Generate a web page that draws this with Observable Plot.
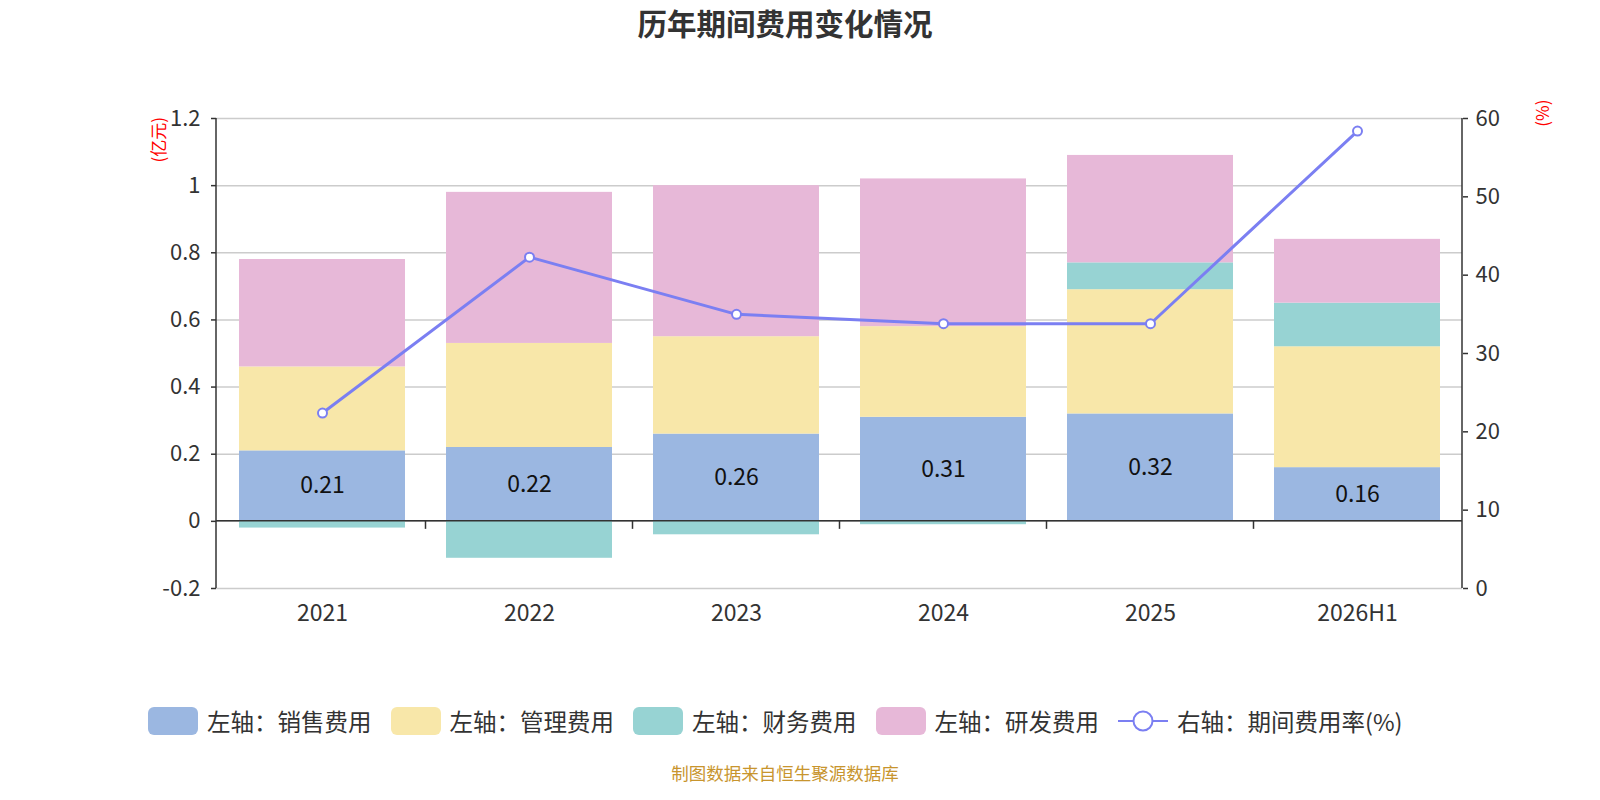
<!DOCTYPE html>
<html>
<head>
<meta charset="utf-8">
<script src="https://cdn.jsdelivr.net/npm/d3@7"></script>
<script src="https://cdn.jsdelivr.net/npm/@observablehq/plot@0.6"></script>
<style>
  html, body { margin: 0; padding: 0; background: #fff; }
  body { width: 1600px; height: 800px; position: relative; overflow: hidden;
         font-family: "Noto Sans CJK SC", "Noto Sans", sans-serif; color: #333; }
  #title { position: absolute; top: 0; left: 0; width: 1570px; text-align: center;
           font-size: 29.5px; font-weight: bold; line-height: 44px; color: #333; }
  #chart { position: absolute; top: 50px; left: 0; }
  #legend { position: absolute; top: 704px; left: 148px; display: flex; align-items: center;
            font-size: 23.5px; color: #333; white-space: nowrap; }
  .item { display: flex; align-items: center; margin-right: 19px; }
  .sw { width: 50px; height: 28px; border-radius: 6px; margin-right: 9px; }
  #caption { position: absolute; top: 760px; left: 0; width: 1570px; text-align: center;
             font-size: 17.5px; color: #c8952e; }
</style>
</head>
<body>
<div id="title">历年期间费用变化情况</div>
<div id="chart"></div>
<div id="legend"></div>
<div id="caption">制图数据来自恒生聚源数据库</div>
<script>
// ---- data ----
const categories = ["2021", "2022", "2023", "2024", "2025", "2026H1"];
const salesExp   = [0.21, 0.22, 0.26, 0.31, 0.32, 0.16];
const adminExp   = [0.25, 0.31, 0.29, 0.27, 0.37, 0.36];
const financeExp = [-0.02, -0.11, -0.04, -0.01, 0.08, 0.13];
const rndExp     = [0.32, 0.45, 0.45, 0.44, 0.32, 0.19];
const expenseRate = [22.4, 42.3, 35.0, 33.8, 33.8, 58.4];
const seriesNames = ["左轴：销售费用", "左轴：管理费用", "左轴：财务费用", "左轴：研发费用"];
const lineName = "右轴：期间费用率(%)";
const seriesColors = ["#9bb7e1", "#f8e7a9", "#97d3d3", "#e7b8d8"];
const lineColor = "#7b7ff2";
const leftTicks = [-0.2, 0, 0.2, 0.4, 0.6, 0.8, 1, 1.2];
const rightTicks = [0, 10, 20, 30, 40, 50, 60];
const leftDomain = [-0.2, 1.2];
const rightDomain = [0, 60];

// ---- build table ----
const seriesValues = [salesExp, adminExp, financeExp, rndExp];
const rows = [];
seriesValues.forEach((vals, s) => vals.forEach((v, i) =>
  rows.push({year: categories[i], series: seriesNames[s], value: v})));
// map right-axis values onto left scale domain
const toLeft = r => leftDomain[0] + (r - rightDomain[0]) * (leftDomain[1] - leftDomain[0]) / (rightDomain[1] - rightDomain[0]);
const toRight = y => rightDomain[0] + (y - leftDomain[0]) * (rightDomain[1] - rightDomain[0]) / (leftDomain[1] - leftDomain[0]);
const rateRows = categories.map((c, i) => ({year: c, rate: expenseRate[i]}));
const salesRows = categories.map((c, i) => ({year: c, value: salesExp[i]}));

function axisLines(index, scales, values, dims) {
  const sx = scales.x, sy = scales.y;
  const g = d3.create("svg:g").attr("stroke", "#333").attr("stroke-width", 1.5).attr("fill", "none");
  const left = dims.marginLeft, right = dims.width - dims.marginRight;
  const top = dims.marginTop, bottom = dims.height - dims.marginBottom;
  g.append("line").attr("x1", left).attr("x2", left).attr("y1", top).attr("y2", bottom);
  g.append("line").attr("x1", right).attr("x2", right).attr("y1", top).attr("y2", bottom);
  const y0 = sy(0);
  g.append("line").attr("x1", left).attr("x2", right).attr("y1", y0).attr("y2", y0);
  const step = sx(categories[1]) - sx(categories[0]);
  const bw = typeof sx.bandwidth === "function" ? sx.bandwidth() : step * 0.8;
  for (let i = 1; i < categories.length; i++) {
    const bx = sx(categories[i]) - (step - bw) / 2;
    g.append("line").attr("x1", bx).attr("x2", bx).attr("y1", y0).attr("y2", y0 + 8);
  }
  return g.node();
}

const chart = Plot.plot({
  width: 1600,
  height: 620,
  marginTop: 68,
  marginBottom: 82,
  marginLeft: 216,
  marginRight: 138,
  style: {fontFamily: "'Noto Sans CJK SC', 'Noto Sans', sans-serif", fontSize: "20px", color: "#333", background: "transparent"},
  x: {domain: categories, paddingInner: 0.2, paddingOuter: 0.1, axis: null, label: null},
  y: {domain: leftDomain, axis: null, label: null},
  color: {domain: seriesNames, range: seriesColors},
  marks: [
    Plot.ruleY(leftTicks, {stroke: "#cccccc", strokeWidth: 1.5}),
    Plot.barY(rows, {x: "year", y: "value", fill: "series", inset: 0}),
    axisLines,
    Plot.text(salesRows, {x: "year", y: d => d.value / 2, text: d => d.value.toFixed(2), fill: "#111", fontSize: 23}),
    Plot.line(rateRows, {x: "year", y: d => toLeft(d.rate), stroke: lineColor, strokeWidth: 3}),
    Plot.dot(rateRows, {x: "year", y: d => toLeft(d.rate), r: 4.5, fill: "#fff", stroke: lineColor, strokeWidth: 2}),
    Plot.axisY(leftTicks, {anchor: "left", label: null, tickSize: 5, tickPadding: 11, fontSize: 22, stroke: "#333", strokeWidth: 1.5,
      tickFormat: d => String(+d.toFixed(1))}),
    Plot.axisY(rightTicks.map(toLeft), {anchor: "right", label: null, tickSize: 5, tickPadding: 8, fontSize: 22, stroke: "#333", strokeWidth: 1.5,
      tickFormat: d => String(Math.round(toRight(d)))}),
    Plot.axisX({anchor: "bottom", label: null, tickSize: 0, tickPadding: 16, fontSize: 23}),
    Plot.text(["(亿元)"], {frameAnchor: "top-left", dx: -64, dy: 44, rotate: -90, fill: "red", fontSize: 17}),
    Plot.text(["(%)"], {frameAnchor: "top-right", dx: 74, dy: -19, rotate: -90, fill: "red", fontSize: 17})
  ]
});
document.getElementById("chart").appendChild(chart);

// ---- legend ----
const legend = document.getElementById("legend");
seriesNames.forEach((name, i) => {
  const it = document.createElement("div");
  it.className = "item";
  it.innerHTML = `<div class="sw" style="background:${seriesColors[i]}"></div><span>${name}</span>`;
  legend.appendChild(it);
});
const li = document.createElement("div");
li.className = "item";
li.innerHTML = `<svg width="50" height="28" style="margin-right:9px"><line x1="0" x2="50" y1="14" y2="14" stroke="${lineColor}" stroke-width="2"/><circle cx="25" cy="14" r="9.5" fill="#fff" stroke="${lineColor}" stroke-width="2"/></svg><span>${lineName}</span>`;
legend.appendChild(li);
</script>
</body>
</html>
